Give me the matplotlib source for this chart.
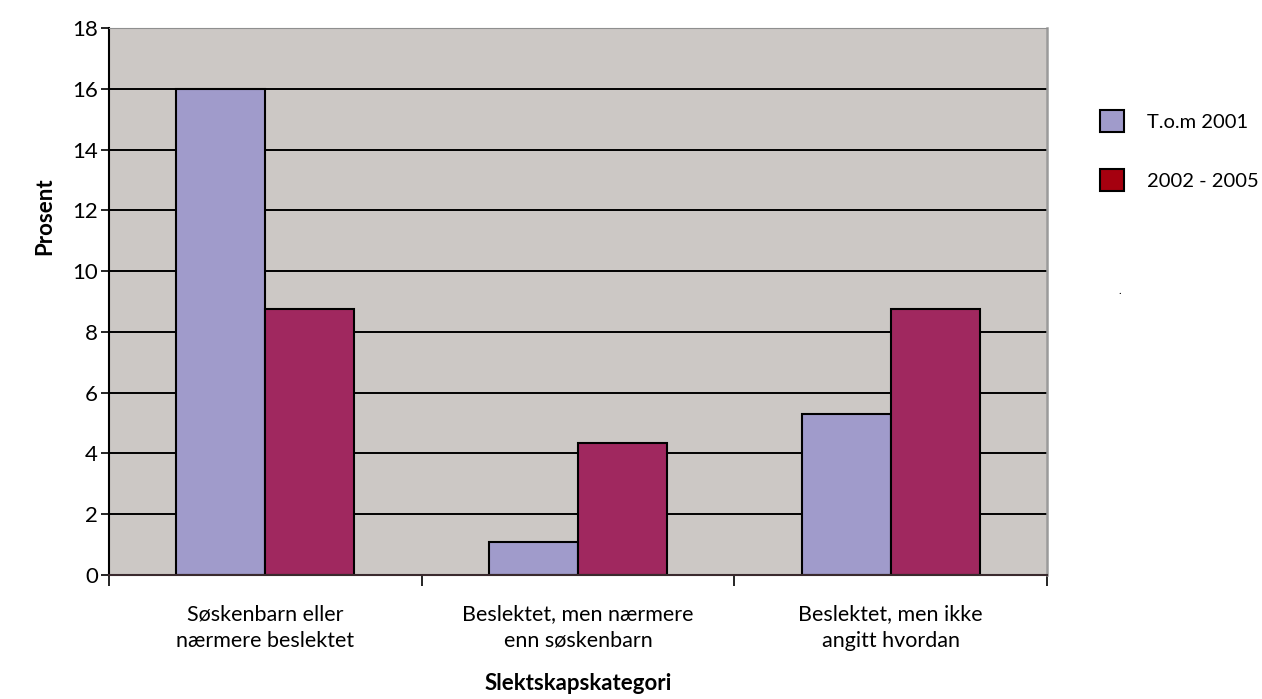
import matplotlib.pyplot as plt
import numpy as np
from matplotlib.patches import Patch

plt.rcParams["font.family"] = ["Lato", "DejaVu Sans"]
plt.rcParams["font.size"] = 16

# data
categories = ["Søskenbarn eller\nnærmere beslektet",
              "Beslektet, men nærmere\nenn søskenbarn",
              "Beslektet, men ikke\nangitt hvordan"]
series_names = ["T.o.m 2001", "2002 - 2005"]
tom_2001 = [16.0, 1.1, 5.3]
y2002_2005 = [8.75, 4.35, 8.75]
y_ticks = [0, 2, 4, 6, 8, 10, 12, 14, 16, 18]

bar_colors = ["#A09BCB", "#A0285F"]
legend_colors = ["#A09BCB", "#A5000F"]
bg = "#CCC8C5"

fig = plt.figure(figsize=(12.62, 6.99), dpi=100)
ax = fig.add_axes([109 / 1262, 1 - 575 / 699, (1047 - 109) / 1262, (575 - 28) / 699])
ax.set_facecolor(bg)

x = np.arange(len(categories))
w = 0.285
ax.set_axisbelow(True)
ax.yaxis.grid(True, color="black", linewidth=1.4)
ax.bar(x - w / 2, tom_2001, width=w, color=bar_colors[0], edgecolor="black", linewidth=1.5)
ax.bar(x + w / 2, y2002_2005, width=w, color=bar_colors[1], edgecolor="black", linewidth=1.5)

ax.set_xlim(-0.5, len(categories) - 0.5)
ax.set_ylim(0, 18)
ax.set_yticks(y_ticks)
ax.tick_params(axis="y", direction="out", length=6, width=1.2, pad=2, labelsize=16)

# category ticks sit on the group boundaries, labels at the centres
ax.set_xticks(np.arange(len(categories) + 1) - 0.5)
ax.set_xticklabels([])
ax.set_xticks(x, minor=True)
ax.set_xticklabels(categories, minor=True, fontsize=15.5, linespacing=1.4)
ax.tick_params(axis="x", which="major", direction="out", length=8, width=1.2)
ax.tick_params(axis="x", which="minor", length=0, pad=21)

ax.spines["left"].set_color("black")
ax.spines["left"].set_linewidth(1.5)
ax.spines["bottom"].set_color("#3a2a2e")
ax.spines["bottom"].set_linewidth(1.5)
ax.spines["top"].set_color("#8f8f8f")
ax.spines["right"].set_color("#9a9a9a")
ax.spines["right"].set_linewidth(1.8)

fig.text(45 / 1262, 1 - 216 / 699, "Prosent", rotation=90, ha="center", va="center",
         fontsize=16, fontweight="bold")
fig.text(578 / 1262, 1 - 683 / 699, "Slektskapskategori", ha="center", va="center",
         fontsize=16, fontweight="bold")

handles = [Patch(facecolor=c, edgecolor="black", linewidth=1.5) for c in legend_colors]
fig.legend(handles, series_names, loc="upper left", bbox_to_anchor=(1100 / 1262, 1 - 110 / 699),
           frameon=False, borderpad=0, borderaxespad=0, handlelength=1.2, handleheight=1.3,
           labelspacing=1.85, handletextpad=1.15, fontsize=14.5)
fig.text(1120 / 1262, 1 - 290 / 699, ".", ha="center", va="center", fontsize=8)

plt.savefig("out.png", dpi=100)
